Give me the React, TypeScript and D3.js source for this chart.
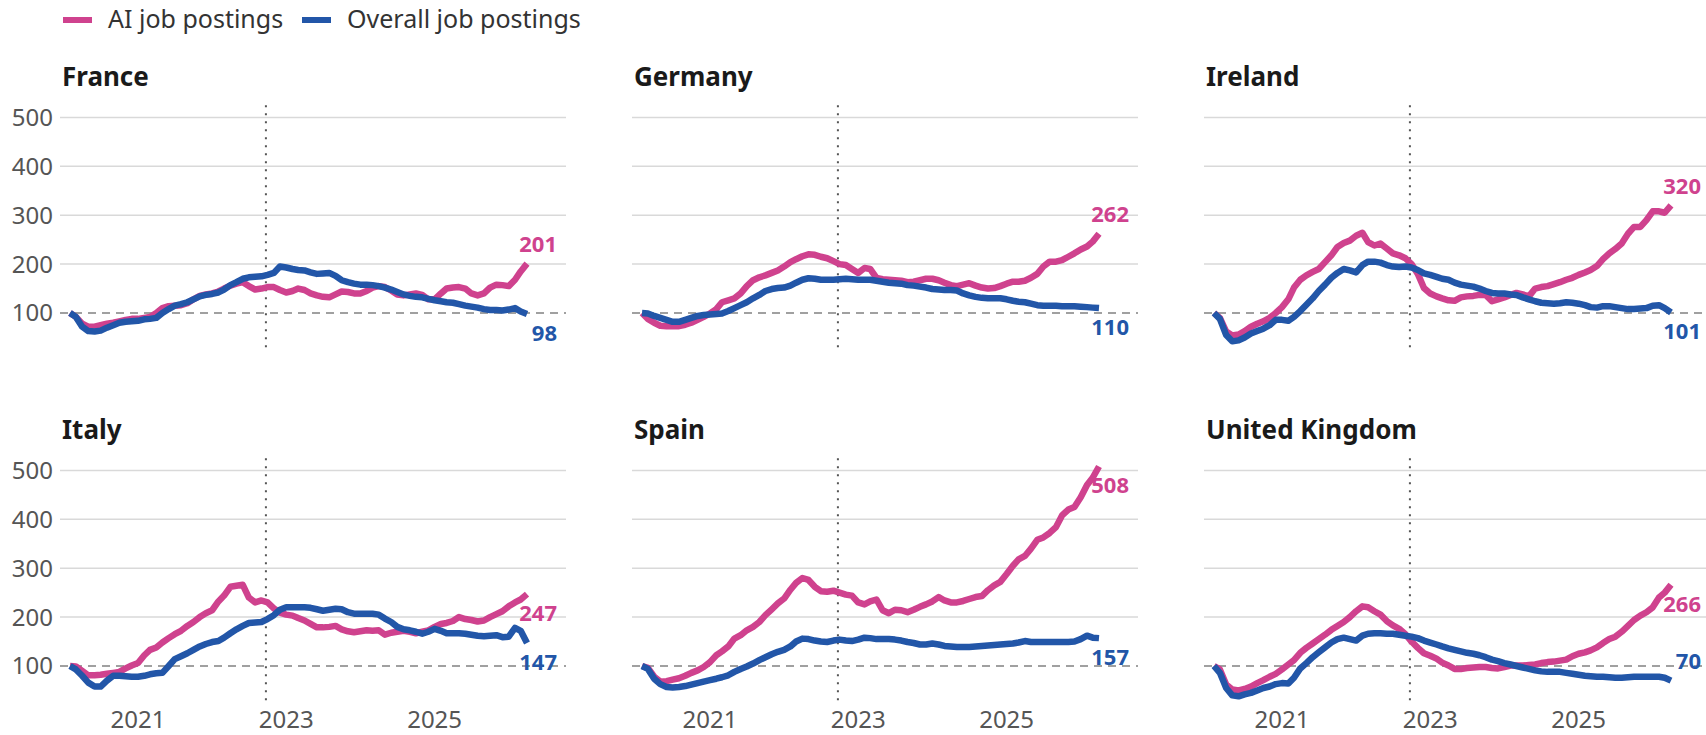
import React from 'react';
import * as d3 from 'd3';

// monthly observations, Feb 2020 .. Apr 2026 (index, Feb 2020 = 100)
const months = d3.timeMonth.range(new Date(2020, 1, 1), new Date(2026, 4, 1));

const countries = ['France', 'Germany', 'Ireland', 'Italy', 'Spain', 'United Kingdom'];

const aiFrance = [100, 92, 78, 72, 72, 75, 78, 80, 83, 86, 88, 88, 90, 92, 100, 110, 114, 115, 116, 120, 128, 135, 138, 140, 144, 150, 156, 160, 163, 155, 148, 150, 153, 153, 147, 142, 145, 150, 147, 140, 136, 133, 132, 138, 144, 143, 140, 140, 145, 152, 155, 153, 146, 138, 136, 138, 140, 137, 128, 128, 140, 150, 152, 153, 150, 140, 136, 140, 152, 158, 157, 155, 168, 185, 201];
const allFrance = [100, 92, 72, 63, 62, 64, 70, 75, 80, 82, 83, 84, 87, 88, 90, 100, 108, 115, 118, 122, 128, 134, 137, 139, 142, 148, 157, 163, 170, 173, 174, 175, 178, 182, 195, 193, 190, 188, 187, 183, 180, 181, 182, 176, 167, 163, 160, 158, 158, 157, 155, 152, 148, 143, 138, 135, 133, 132, 129, 126, 124, 122, 121, 118, 115, 113, 111, 108, 106, 106, 105, 107, 110, 103, 98];

const aiGermany = [100, 88, 80, 74, 73, 73, 73, 76, 80, 86, 92, 99, 108, 122, 126, 130, 140, 155, 167, 173, 177, 182, 187, 195, 204, 210, 216, 220, 219, 215, 212, 206, 200, 198, 190, 182, 192, 190, 172, 169, 168, 167, 166, 163, 164, 167, 170, 170, 167, 162, 157, 155, 158, 161, 156, 152, 150, 151, 155, 160, 164, 164, 166, 172, 180, 195, 205, 205, 208, 215, 222, 230, 236, 246, 262];
const allGermany = [100, 99, 94, 90, 86, 82, 82, 86, 90, 94, 96, 97, 98, 99, 104, 110, 116, 122, 130, 137, 145, 149, 151, 152, 156, 162, 168, 171, 170, 168, 168, 168, 169, 170, 169, 168, 168, 168, 166, 164, 162, 161, 160, 157, 156, 154, 152, 149, 148, 147, 147, 146, 140, 136, 133, 131, 130, 130, 130, 128, 125, 123, 122, 119, 116, 115, 115, 115, 114, 114, 114, 113, 112, 111, 110];

const aiIreland = [100, 90, 62, 54, 56, 63, 72, 78, 83, 90, 100, 112, 128, 152, 168, 177, 184, 190, 204, 218, 235, 243, 248, 258, 264, 245, 238, 242, 232, 222, 218, 212, 200, 180, 151, 140, 134, 130, 126, 125, 132, 134, 135, 137, 137, 124, 128, 132, 137, 141, 138, 134, 150, 153, 155, 159, 163, 168, 172, 178, 183, 188, 196, 210, 222, 231, 242, 262, 276, 276, 290, 308, 308, 305, 320];
const allIreland = [100, 88, 55, 42, 44, 50, 58, 63, 68, 75, 86, 86, 84, 92, 104, 117, 130, 145, 158, 172, 182, 190, 187, 183, 198, 205, 205, 203, 198, 195, 194, 195, 193, 188, 181, 178, 174, 170, 168, 162, 158, 156, 154, 150, 145, 141, 140, 140, 138, 137, 132, 128, 124, 121, 120, 119, 120, 122, 121, 119, 116, 112, 111, 114, 114, 112, 110, 108, 108, 109, 110, 115, 116, 110, 101];

const aiItaly = [100, 99, 90, 81, 81, 82, 84, 86, 88, 95, 101, 106, 122, 133, 138, 148, 157, 165, 172, 182, 190, 200, 208, 214, 232, 244, 262, 264, 266, 240, 230, 234, 230, 218, 209, 205, 203, 198, 193, 186, 179, 179, 180, 182, 175, 171, 169, 171, 173, 172, 173, 164, 168, 170, 172, 170, 167, 170, 173, 180, 186, 188, 192, 200, 196, 194, 191, 193, 200, 206, 212, 222, 230, 236, 247];
const allItaly = [100, 93, 80, 66, 58, 58, 70, 80, 80, 79, 78, 78, 80, 83, 85, 86, 100, 114, 120, 126, 133, 140, 145, 149, 151, 158, 167, 175, 182, 188, 189, 190, 196, 204, 215, 220, 220, 220, 220, 219, 216, 213, 215, 217, 216, 210, 207, 207, 207, 207, 205, 197, 190, 180, 175, 173, 170, 166, 170, 176, 172, 167, 167, 167, 166, 164, 162, 161, 162, 163, 159, 160, 178, 172, 147];

const aiSpain = [100, 96, 78, 68, 69, 72, 75, 80, 86, 91, 98, 108, 122, 130, 140, 156, 163, 173, 180, 190, 204, 216, 228, 238, 256, 270, 280, 276, 262, 253, 252, 254, 250, 246, 244, 230, 226, 232, 236, 214, 208, 215, 214, 210, 215, 221, 226, 232, 241, 234, 230, 230, 233, 237, 241, 243, 255, 265, 272, 288, 305, 318, 325, 340, 358, 363, 372, 384, 408, 420, 425, 445, 470, 485, 508];
const allSpain = [100, 94, 74, 63, 57, 56, 57, 59, 62, 65, 68, 71, 74, 77, 81, 88, 94, 99, 105, 112, 118, 124, 129, 133, 140, 150, 156, 155, 152, 150, 149, 152, 154, 152, 151, 154, 158, 157, 155, 155, 155, 154, 152, 149, 147, 144, 144, 146, 144, 141, 140, 139, 139, 139, 140, 141, 142, 143, 144, 145, 146, 148, 151, 149, 149, 149, 149, 149, 149, 149, 150, 155, 162, 158, 157];

const aiUK = [100, 93, 62, 52, 50, 53, 58, 65, 71, 78, 84, 93, 103, 112, 127, 137, 146, 155, 164, 174, 182, 190, 200, 212, 222, 220, 212, 205, 192, 183, 176, 165, 150, 137, 126, 121, 115, 107, 101, 94, 94, 96, 97, 98, 98, 96, 95, 98, 101, 101, 101, 102, 103, 106, 108, 109, 111, 113, 120, 125, 128, 132, 138, 147, 155, 160, 170, 182, 194, 203, 210, 220, 240, 250, 266];
const allUK = [100, 86, 55, 40, 38, 42, 45, 50, 55, 58, 63, 65, 64, 76, 95, 106, 118, 128, 138, 148, 155, 158, 155, 152, 162, 166, 167, 167, 166, 166, 164, 162, 160, 157, 152, 148, 144, 140, 136, 133, 130, 127, 125, 122, 118, 113, 110, 106, 103, 100, 97, 94, 91, 89, 88, 88, 88, 86, 84, 82, 80, 79, 78, 78, 77, 76, 76, 77, 78, 78, 78, 78, 78, 76, 70];

const aiSeries = [aiFrance, aiGermany, aiIreland, aiItaly, aiSpain, aiUK];
const allSeries = [allFrance, allGermany, allIreland, allItaly, allSpain, allUK];

const yTicks = [100, 200, 300, 400, 500];
const xTicks = [new Date(2021, 0, 1), new Date(2023, 0, 1), new Date(2025, 0, 1)];
const markerDate = new Date(2022, 8, 23);

// end label goes above (-1) or below (+1) the end of each line
const aiLabelSide = [-1, -1, -1, 1, 1, 1];
const allLabelSide = [1, 1, 1, 1, 1, -1];

const PINK = '#cf428e';
const BLUE = '#2256a8';
const FONT = '"Noto Sans", "Open Sans", sans-serif';

const W = 1706;
const H = 735;
const colX = [60, 632, 1204];
const rowY100 = [313, 666];
const panelW = 506;

const Panel = ({ idx }: { idx: number }) => {
  const col = idx % 3;
  const row = Math.floor(idx / 3);
  const x0 = colX[col];
  const y100 = rowY100[row];

  const x = d3
    .scaleTime()
    .domain([months[0], months[months.length - 1]])
    .range([x0 + 10, x0 + 467]);
  const y = d3.scaleLinear().domain([100, 500]).range([y100, y100 - 195.6]);

  const line = d3
    .line<number>()
    .x((_, i) => x(months[i]))
    .y((d) => y(d));

  const ai = aiSeries[idx];
  const all = allSeries[idx];
  const last = months[months.length - 1];
  const labelX = x(last) + 30;

  return (
    <g>
      <text x={x0 + 2} y={86 + row * 353} fontSize={26} fontWeight={700} fill="#1a1a1a">
        {countries[idx]}
      </text>
      {yTicks.slice(1).map((t) => (
        <line key={t} x1={x0} x2={x0 + panelW} y1={y(t)} y2={y(t)} stroke="#d9d9d9" strokeWidth={1.5} />
      ))}
      <line x1={x0} x2={x0 + panelW} y1={y(100)} y2={y(100)} stroke="#a0a0a0" strokeWidth={2} strokeDasharray="8,6" />
      {col === 0 &&
        yTicks.map((t) => (
          <text key={t} x={53} y={y(t)} dy="0.35em" textAnchor="end" fontSize={24} fill="#555">
            {t}
          </text>
        ))}
      <line
        x1={x(markerDate)}
        x2={x(markerDate)}
        y1={y(525)}
        y2={y(26)}
        stroke="#555"
        strokeWidth={2}
        strokeDasharray="2,6"
      />
      {row === 1 &&
        xTicks.map((t) => (
          <text key={+t} x={x(t)} y={728} textAnchor="middle" fontSize={24} fill="#555">
            {t.getFullYear()}
          </text>
        ))}
      <path d={line(ai) || ''} fill="none" stroke={PINK} strokeWidth={6.5} strokeLinejoin="round" />
      <path d={line(all) || ''} fill="none" stroke={BLUE} strokeWidth={6.5} strokeLinejoin="round" />
      <text
        x={labelX}
        y={y(ai[ai.length - 1]) + aiLabelSide[idx] * 19}
        dy="0.35em"
        textAnchor="end"
        fontSize={22}
        fontWeight={700}
        fill={PINK}
      >
        {ai[ai.length - 1]}
      </text>
      <text
        x={labelX}
        y={y(all[all.length - 1]) + allLabelSide[idx] * 19}
        dy="0.35em"
        textAnchor="end"
        fontSize={22}
        fontWeight={700}
        fill={BLUE}
      >
        {all[all.length - 1]}
      </text>
    </g>
  );
};

export default function App() {
  return (
    <svg
      width={W}
      height={H}
      style={{ position: 'absolute', left: 0, top: 0, background: '#fff', fontFamily: FONT }}
    >
      {/* legend */}
      <rect x={63} y={17} width={29} height={6} fill={PINK} />
      <text x={108} y={28} fontSize={25} fill="#333">AI job postings</text>
      <rect x={302} y={17} width={29} height={6} fill={BLUE} />
      <text x={347} y={28} fontSize={25} fill="#333">Overall job postings</text>
      {countries.map((c, i) => (
        <Panel key={c} idx={i} />
      ))}
    </svg>
  );
}
